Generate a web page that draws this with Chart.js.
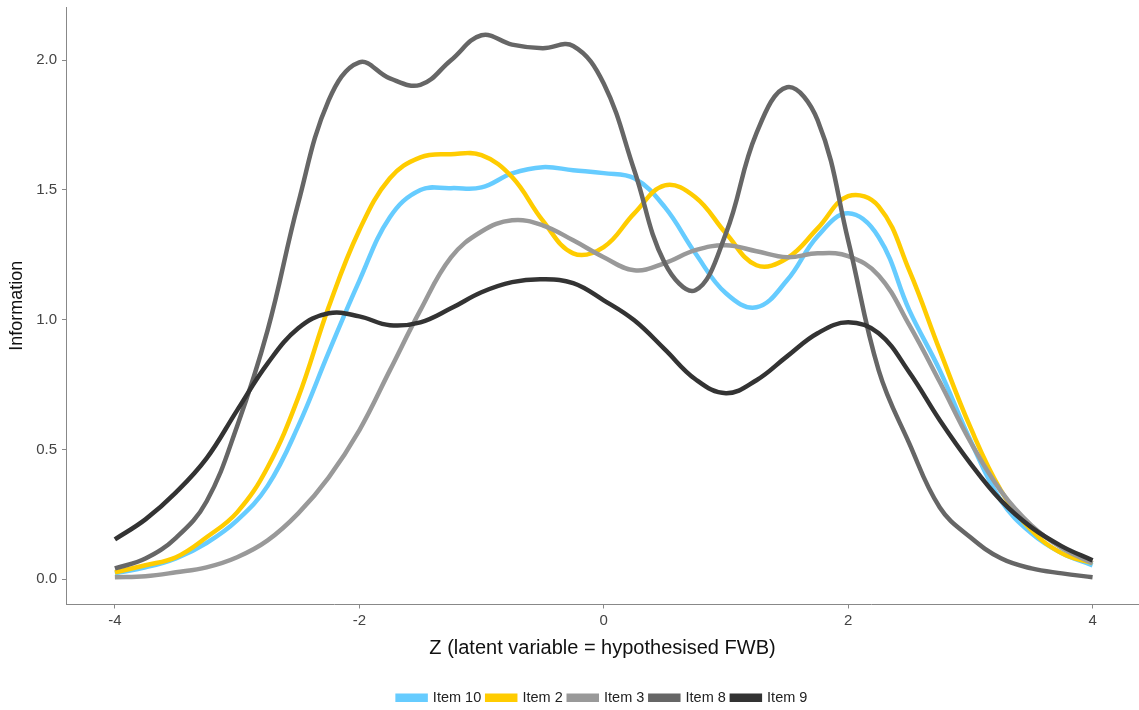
<!DOCTYPE html>
<html>
<head>
<meta charset="utf-8">
<script src="https://cdn.jsdelivr.net/npm/chart.js@4.4.1/dist/chart.umd.min.js"></script>
<style>
  html, body { margin: 0; padding: 0; background: #fff; }
  #wrap { width: 1139px; height: 710px; }
</style>
</head>
<body>
<div id="wrap"><canvas id="myChart" width="1139" height="710"></canvas></div>
<script>
const zGrid = [-4, -3.75, -3.5, -3.25, -3, -2.75, -2.5, -2.25, -2, -1.75, -1.5, -1.25, -1, -0.75, -0.5, -0.25,
               0, 0.25, 0.5, 0.75, 1, 1.25, 1.5, 1.75, 2, 2.25, 2.5, 2.75, 3, 3.25, 3.5, 3.75, 4];

const item10 = [0.023, 0.046, 0.081, 0.14, 0.227, 0.36, 0.59, 0.875, 1.15, 1.395, 1.5, 1.507, 1.51, 1.564, 1.588, 1.576,
                1.565, 1.545, 1.434, 1.256, 1.102, 1.048, 1.152, 1.322, 1.41, 1.318, 1.037, 0.805, 0.536, 0.304, 0.177, 0.1, 0.054];
const item2  = [0.027, 0.054, 0.085, 0.162, 0.258, 0.432, 0.7, 1.05, 1.345, 1.545, 1.626, 1.638, 1.634, 1.55, 1.383, 1.256,
                1.28, 1.41, 1.518, 1.472, 1.333, 1.21, 1.237, 1.352, 1.476, 1.437, 1.19, 0.882, 0.586, 0.343, 0.189, 0.1, 0.062];
const item3  = [0.008, 0.012, 0.027, 0.046, 0.085, 0.15, 0.254, 0.393, 0.574, 0.805, 1.037, 1.24, 1.34, 1.383, 1.364, 1.306,
                1.241, 1.191, 1.218, 1.268, 1.287, 1.264, 1.241, 1.256, 1.245, 1.171, 0.98, 0.76, 0.53, 0.34, 0.208, 0.12, 0.062];
const item8  = [0.042, 0.08, 0.16, 0.3, 0.59, 0.96, 1.449, 1.846, 1.992, 1.93, 1.905, 2.0, 2.096, 2.06, 2.046, 2.055,
                1.91, 1.576, 1.218, 1.114, 1.333, 1.719, 1.896, 1.769, 1.306, 0.805, 0.524, 0.277, 0.162, 0.081, 0.042, 0.023, 0.008];
const item9  = [0.154, 0.231, 0.335, 0.466, 0.651, 0.832, 0.967, 1.025, 1.013, 0.979, 0.99, 1.044, 1.106, 1.145, 1.156, 1.141,
                1.075, 0.998, 0.886, 0.771, 0.717, 0.767, 0.859, 0.948, 0.99, 0.948, 0.798, 0.613, 0.447, 0.304, 0.2, 0.127, 0.073];

const xTicks = [-4, -2, 0, 2, 4];
const yTicks = [0, 0.5, 1, 1.5, 2];

const seriesNames  = ['Item 10', 'Item 2', 'Item 3', 'Item 8', 'Item 9'];
const seriesValues = [item10, item2, item3, item8, item9];
const seriesColors = ['#66ccff', '#ffcc00', '#999999', '#666666', '#333333'];

const FONT = 'Liberation Sans, Arial, Helvetica, sans-serif';

function pts(vals) {
    return zGrid.map((z, i) => ({x: z, y: vals[i]}));
}

const datasets = seriesNames.map((name, i) => ({
    label: name,
    data: pts(seriesValues[i]),
    borderColor: seriesColors[i],
    backgroundColor: seriesColors[i],
    borderWidth: 4.5,
    pointRadius: 0,
    fill: false,
    tension: 0.4,
    order: seriesNames.length - i
}));

var ctx = document.getElementById('myChart').getContext('2d');
var myChart = new Chart(ctx, {
    type: 'line',
    data: { datasets: datasets },
    options: {
        responsive: false,
        animation: false,
        layout: { padding: { top: 7, right: 0, left: 0, bottom: -5 } },
        plugins: {
            tooltip: { enabled: false },
            legend: {
                position: 'bottom',
                fullSize: false,
                labels: {
                    boxWidth: 28,
                    boxHeight: 4,
                    padding: 6,
                    color: '#222',
                    font: { family: FONT, size: 14.5 },
                    sort: (a, b) => a.datasetIndex - b.datasetIndex
                }
            }
        },
        scales: {
            x: {
                type: 'linear',
                min: -4.4,
                max: 4.38,
                afterBuildTicks: (s) => { s.ticks = xTicks.map(v => ({value: v})); },
                afterFit: (s) => { s.paddingLeft = 0; s.paddingRight = 0; },
                ticks: {
                    color: '#444',
                    padding: 3,
                    maxRotation: 0,
                    font: { family: FONT, size: 15 },
                    callback: (v) => String(v)
                },
                grid: { display: true, drawOnChartArea: false, drawTicks: true, tickLength: 4, color: '#888' },
                border: { display: true, color: '#888', width: 1 },
                title: {
                    display: true,
                    text: 'Z (latent variable = hypothesised FWB)',
                    color: '#111',
                    font: { family: FONT, size: 20 },
                    padding: { top: 4, bottom: 24 }
                }
            },
            y: {
                type: 'linear',
                min: -0.097,
                max: 2.205,
                afterBuildTicks: (s) => { s.ticks = yTicks.map(v => ({value: v})); },
                afterFit: (s) => { s.width = 66; s.paddingTop = 0; s.paddingBottom = 0; },
                ticks: {
                    color: '#444',
                    padding: 5,
                    font: { family: FONT, size: 15 },
                    callback: (v) => Number(v).toFixed(1)
                },
                grid: { display: true, drawOnChartArea: false, drawTicks: true, tickLength: 4, color: '#888' },
                border: { display: true, color: '#888', width: 1 },
                title: {
                    display: true,
                    text: 'Information',
                    color: '#111',
                    font: { family: FONT, size: 18 },
                    padding: { top: 6, bottom: 0 }
                }
            }
        }
    }
});
</script>
</body>
</html>
